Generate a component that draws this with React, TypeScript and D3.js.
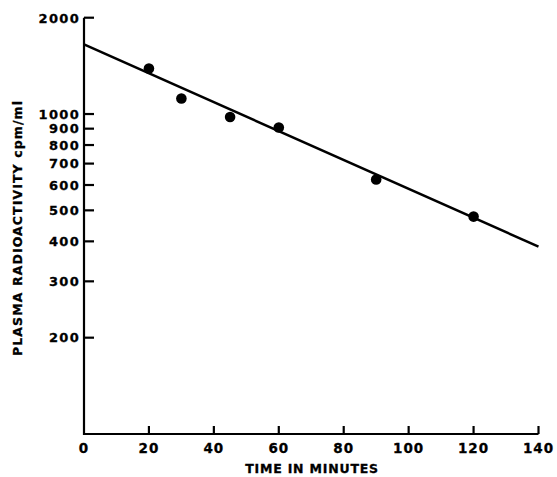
import React from "react";
import * as d3 from "d3";

const timeMinutes = [20, 30, 45, 60, 90, 120];
const radioactivity = [1388, 1118, 979, 908, 624, 478];
const fitTime = [0, 140];
const fitValue = [1650, 385];
const yTicks = [2000, 1000, 900, 800, 700, 600, 500, 400, 300, 200];
const xTicks = [0, 20, 40, 60, 80, 100, 120, 140];

const W = 557;
const H = 477;
const FONT = "'DejaVu Sans', Verdana, sans-serif";

export default function App() {
  const x = d3.scaleLinear().domain([0, 140]).range([84, 538.5]);
  const y = d3.scaleLog().domain([100, 2000]).range([434, 17.7]);
  const line = d3
    .line<number>()
    .x((_, i) => x(fitTime[i]))
    .y((d) => y(d));

  return (
    <svg
      width={W}
      height={H}
      style={{ position: "absolute", left: 0, top: 0, background: "#fff" }}
      fontFamily={FONT}
      fontWeight="bold"
    >
      {/* axes */}
      <line x1={x(0)} x2={x(0)} y1={y(2000)} y2={y(100) + 1} stroke="#000" strokeWidth={2.2} />
      <line x1={x(0) - 1} x2={x(140)} y1={y(100)} y2={y(100)} stroke="#000" strokeWidth={2.2} />
      {yTicks.map((t) => (
        <g key={t}>
          <line x1={x(0)} x2={x(0) + 10} y1={y(t)} y2={y(t)} stroke="#000" strokeWidth={2.2} />
          <text
            x={x(0) - 4}
            y={y(t)}
            dy="0.37em"
            textAnchor="end"
            fontSize={13}
            letterSpacing={1.3}
            fill="#000"
            stroke="#000"
            strokeWidth={0.3}
          >
            {t}
          </text>
        </g>
      ))}
      {xTicks.map((t) => (
        <g key={t}>
          {t > 0 && (
            <line x1={x(t)} x2={x(t)} y1={y(100)} y2={y(100) - 8} stroke="#000" strokeWidth={2.2} />
          )}
          <text
            x={x(t)}
            y={453}
            textAnchor="middle"
            fontSize={13.5}
            letterSpacing={1}
            fill="#000"
            stroke="#000"
            strokeWidth={0.3}
          >
            {t}
          </text>
        </g>
      ))}
      <text
        x={312}
        y={473}
        textAnchor="middle"
        fontSize={12.5}
        letterSpacing={0.8}
        fill="#000"
        stroke="#000"
        strokeWidth={0.3}
      >
        TIME IN MINUTES
      </text>
      <text
        transform={`translate(22, 228) rotate(-90)`}
        textAnchor="middle"
        fontSize={12.5}
        letterSpacing={1.1}
        fill="#000"
        stroke="#000"
        strokeWidth={0.3}
      >
        PLASMA RADIOACTIVITY cpm/ml
      </text>
      {/* fit line */}
      <path d={line(fitValue) || ""} fill="none" stroke="#000" strokeWidth={2.5} />
      {/* data points */}
      {timeMinutes.map((t, i) => (
        <circle key={t} cx={x(t)} cy={y(radioactivity[i])} r={5.3} fill="#000" />
      ))}
    </svg>
  );
}
